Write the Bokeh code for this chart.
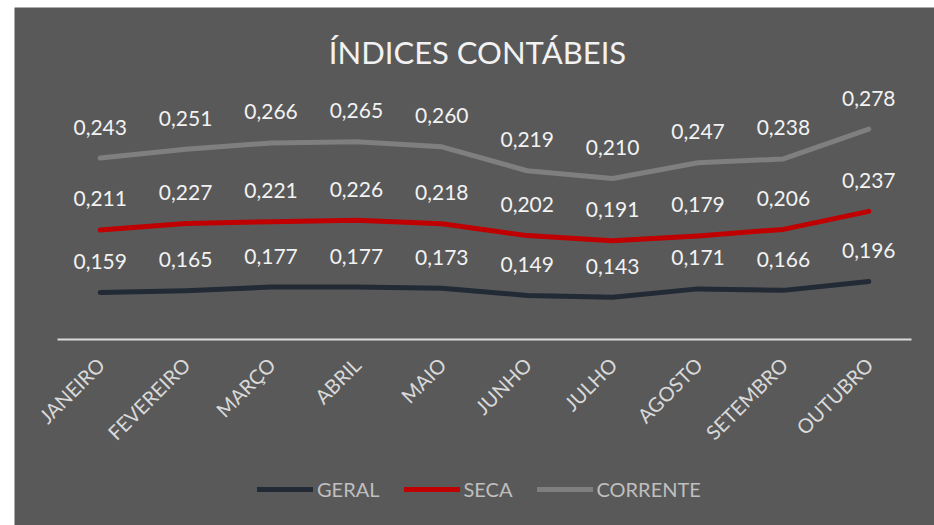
from bokeh.plotting import figure
from bokeh.models import (Range1d, ColumnDataSource, LabelSet, Label,
                          Legend, LegendItem)
from bokeh.core.properties import value
from bokeh.embed import file_html
from bokeh.resources import INLINE
from math import pi

months = ["JANEIRO", "FEVEREIRO", "MARÇO", "ABRIL", "MAIO", "JUNHO",
          "JULHO", "AGOSTO", "SETEMBRO", "OUTUBRO"]
geral = [0.159, 0.165, 0.177, 0.177, 0.173, 0.149, 0.143, 0.171, 0.166, 0.196]
seca = [0.211, 0.227, 0.221, 0.226, 0.218, 0.202, 0.191, 0.179, 0.206, 0.237]
corrente = [0.243, 0.251, 0.266, 0.265, 0.260, 0.219, 0.210, 0.247, 0.238, 0.278]

series_names = ["GERAL", "SECA", "CORRENTE"]
series_values = [geral, seca, corrente]
colors = ["#222a35", "#c00000", "#7f7f7f"]

BG = "#595959"
FONT = "Lato"

n = len(months)
xs = list(range(n))
cat_px = 85.4
W, H = 920, 518
p = figure(width=W, height=H,
           x_range=Range1d(-0.5 - 43 / cat_px, n - 0.5 + 23 / cat_px),
           y_range=Range1d(-186 / 296, 332 / 296),
           output_backend="svg", toolbar_location=None,
           x_axis_location=None, y_axis_location=None,
           min_border=0)
p.margin = (7, 0, 0, 14)
p.background_fill_color = BG
p.border_fill_color = BG
p.outline_line_color = None
p.grid.visible = False

# category baseline (x axis line)
p.segment(x0=[-0.5], y0=[0], x1=[n - 0.5], y1=[0], line_color="#d9d9d9",
          line_width=2)

# category labels
cat_src = ColumnDataSource(dict(x=xs, y=[0] * n, t=months))
p.add_layout(LabelSet(x="x", y="y", text="t", source=cat_src, angle=pi / 4,
                      x_offset=-8, y_offset=-13, text_align="right",
                      text_baseline="top", text_color="#d9d9d9",
                      text_font=value(FONT), text_font_size="20px"))

# stacked lines
cum = [0.0] * n
items = []
for name, vals, col in zip(series_names, series_values, colors):
    cum = [c + v for c, v in zip(cum, vals)]
    src = ColumnDataSource(dict(x=xs, y=list(cum),
                                t=[f"{v:.3f}".replace(".", ",") for v in vals]))
    r = p.line("x", "y", source=src, line_color=col, line_width=5,
               line_cap="round", line_join="round")
    items.append(LegendItem(label=name, renderers=[r]))
    p.add_layout(LabelSet(x="x", y="y", text="t", source=src, y_offset=31,
                          text_align="center", text_baseline="middle",
                          text_color="#f2f2f2", text_font_size="21px",
                          text_font=value(FONT)))

# title
p.add_layout(Label(x=463, y=474, x_units="screen", y_units="screen",
                   text="ÍNDICES CONTÁBEIS", text_align="center",
                   text_baseline="middle", text_color="#f2f2f2",
                   text_font=FONT, text_font_size="31px"))

legend = Legend(items=items, orientation="horizontal", location=(243, 24),
                glyph_width=56, glyph_height=20, label_height=20,
                label_standoff=4, spacing=24,
                padding=0, margin=0, border_line_alpha=0, background_fill_alpha=0,
                label_text_color="#bfbfbf", label_text_font=FONT,
                label_text_font_size="20px")
p.add_layout(legend, "center")

open("out.html", "w").write(file_html(p, INLINE))
